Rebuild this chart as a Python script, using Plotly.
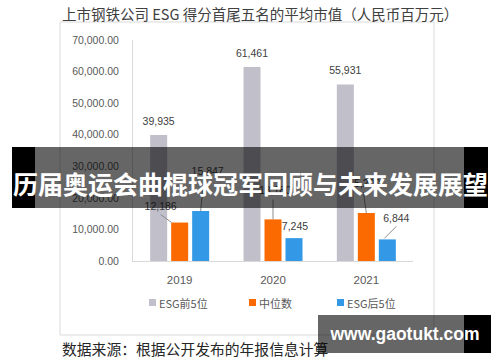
import plotly.graph_objects as go

# ---------------- data ----------------
years = ["2019", "2020", "2021"]
series_names = ["ESG前5位", "中位数", "ESG后5位"]
esg_top5 = [39935, 61461, 55931]
median_vals = [12186, 13180, 15200]
esg_bottom5 = [15847, 7245, 6844]
y_ticks = [0, 10000, 20000, 30000, 40000, 50000, 60000, 70000]

title_text = "上市钢铁公司 ESG 得分首尾五名的平均市值（人民币百万元）"
footer_text = "数据来源：根据公开发布的年报信息计算"
banner_text = "历届奥运会曲棍球冠军回顾与未来发展展望"
watermark_text = "www.gaotukt.com"

# ---------------- layout geometry ----------------
W, H = 500, 362
L, R, T, B = 133, 87, 40, 101
PW, PH = W - L - R, H - T - B
YMAX = 70000
colors = ["#C0BFCA", "#FA6A00", "#3399E6"]
CJK = "Noto Sans CJK SC"
LAT = "Liberation Sans"


def px(x):
    return (x - L) / PW


def py(y):
    return (H - B - y) / PH


DX = 3 / PW      # data units per pixel (x)
DY = YMAX / PH   # data units per pixel (y)

BARGAP, GROUPGAP = 0.325, 0.19
slot = (1 - BARGAP) / 3
offsets = [(k - 1) * slot for k in range(3)]
xs = list(range(len(years)))
all_series = [esg_top5, median_vals, esg_bottom5]

fig = go.Figure()
for k, (name, vals) in enumerate(zip(series_names, all_series)):
    fig.add_bar(x=xs, y=vals, name=name, marker_color=colors[k],
                marker_line_width=0, hoverinfo="skip")

# label placement (pixel offsets from bar top centre) and leader lines
label_pos = {
    (0, 0): ((0, -13), None), (0, 1): ((0, -13), None), (0, 2): ((0, -13), None),
    (1, 0): ((-19, -15), [(-19, -8), (-8, 0)]),
    (2, 0): ((7, -39), [(3, -32), (0, 0)]),
    (1, 1): ((2, -28), [(0, -20), (0, 0)]),
    (2, 1): ((1, -11), None),
    (1, 2): ((-2, -29), [(-3, -21), (0, 0)]),
    (2, 2): ((9, -20), [(9, -13), (-3, -1)]),
}

lx, ly, lt, linex, liney = [], [], [], [], []
for k, vals in enumerate(all_series):
    for i, v in enumerate(vals):
        (ox, oy), line = label_pos[(k, i)]
        bx = xs[i] + offsets[k]
        lx.append(bx + ox * DX)
        ly.append(v - oy * DY)
        lt.append(f"{v:,.0f}")
        if line:
            for (qx, qy) in line:
                linex.append(bx + qx * DX)
                liney.append(v - qy * DY)
            linex.append(None)
            liney.append(None)

fig.add_scatter(x=linex, y=liney, mode="lines", line=dict(color="#8c8c8c", width=1),
                showlegend=False, hoverinfo="skip", cliponaxis=False)
fig.add_scatter(x=lx, y=ly, mode="text", text=lt, textposition="middle center",
                textfont=dict(family=LAT, size=10.5, color="#404040"),
                showlegend=False, hoverinfo="skip", cliponaxis=False)

shapes = [
    # outer chart frame
    dict(type="rect", xref="paper", yref="paper", x0=px(60), x1=px(434), y0=py(335), y1=py(22),
         line=dict(color="#D9D9D9", width=1), fillcolor="rgba(0,0,0,0)", layer="above"),
    # banner
    dict(type="rect", xref="paper", yref="paper", x0=px(35), x1=px(464), y0=py(208), y1=py(147),
         line=dict(width=0), fillcolor="rgba(0,0,0,0.6)", layer="above"),
    dict(type="rect", xref="paper", yref="paper", x0=px(12), x1=px(35), y0=py(208), y1=py(147),
         line=dict(width=0), fillcolor="#000000", layer="above"),
    dict(type="rect", xref="paper", yref="paper", x0=px(464), x1=px(488), y0=py(208), y1=py(147),
         line=dict(width=0), fillcolor="#000000", layer="above"),
    # watermark black end
    dict(type="rect", xref="paper", yref="paper", x0=px(464), x1=px(491), y0=py(353), y1=py(315),
         line=dict(width=0), fillcolor="#000000", layer="above"),
]

annotations = [
    dict(text=title_text, x=px(60), y=py(14), xref="paper", yref="paper",
         xanchor="left", yanchor="middle", showarrow=False,
         font=dict(family=CJK, size=14.5, color="#404040")),
    dict(text=footer_text, x=px(60), y=py(348), xref="paper", yref="paper",
         xanchor="left", yanchor="middle", showarrow=False,
         font=dict(family=CJK, size=14.8, color="#262626")),
    dict(text="<b>" + banner_text + "</b>", x=px(250), y=py(183), xref="paper", yref="paper",
         xanchor="center", yanchor="middle", showarrow=False,
         font=dict(family=CJK, size=25, color="#FFFFFF")),
    dict(text="<b>" + watermark_text + "</b>", x=px(404.5), y=py(334), xref="paper", yref="paper",
         xanchor="center", yanchor="middle", showarrow=False, width=173, height=38,
         bgcolor="rgba(0,0,0,0.6)", borderpad=0, borderwidth=0,
         font=dict(family=LAT, size=17.5, color="#FFFFFF")),
]

# manual legend
legend_x = [149, 249, 337]
for k, name in enumerate(series_names):
    x0 = legend_x[k]
    shapes.append(dict(type="rect", xref="paper", yref="paper", x0=px(x0), x1=px(x0 + 7),
                       y0=py(306), y1=py(299), line=dict(width=0), fillcolor=colors[k], layer="above"))
    annotations.append(dict(text=name, x=px(x0 + 8), y=py(302.5), xref="paper", yref="paper",
                            xanchor="left", yanchor="middle", showarrow=False,
                            font=dict(family=CJK, size=11, color="#595959")))

fig.update_layout(
    width=W, height=H,
    margin=dict(l=L, r=R, t=T, b=B, pad=0),
    paper_bgcolor="#FFFFFF", plot_bgcolor="#FFFFFF",
    barmode="group", bargap=BARGAP, bargroupgap=GROUPGAP,
    showlegend=False,
    shapes=shapes, annotations=annotations,
    xaxis=dict(range=[-0.5, 2.5], tickvals=xs, ticktext=years, showgrid=False,
               zeroline=False, showline=True, linecolor="#D9D9D9", linewidth=1,
               ticks="", ticklabelstandoff=8,
               tickfont=dict(family=LAT, size=11.5, color="#595959"), fixedrange=True),
    yaxis=dict(range=[0, YMAX], tickvals=y_ticks, tickformat=",.2f", showgrid=False,
               zeroline=False, showline=True, linecolor="#D9D9D9", linewidth=1,
               ticks="", ticklabelstandoff=11,
               tickfont=dict(family=LAT, size=10.5, color="#595959"), fixedrange=True),
)

fig.write_html("out.html", config={"displayModeBar": False, "staticPlot": True},
               post_script="document.body.style.margin='0';document.body.style.overflow='hidden';")
